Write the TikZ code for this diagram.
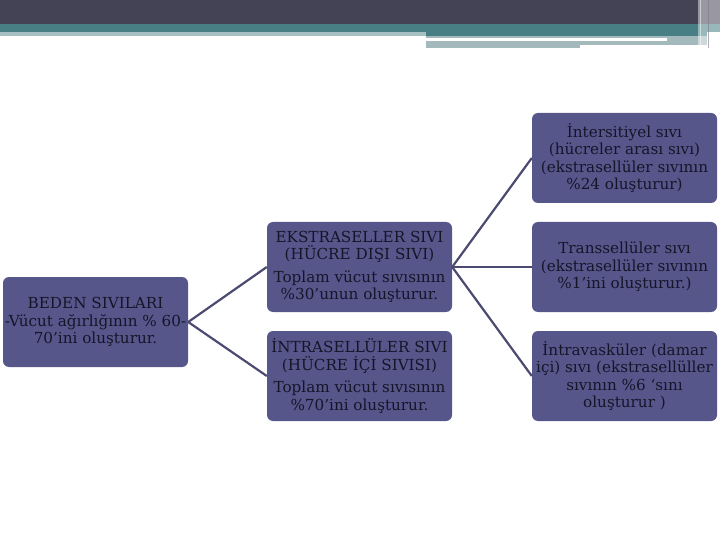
\documentclass[tikz,border=0pt]{standalone}
\usepackage{fontspec}
\setmainfont{DejaVu Serif}
\usepackage{tikz}
\usetikzlibrary{positioning}
\definecolor{koyu}{HTML}{444356}
\definecolor{camgobegi}{HTML}{477F84}
\definecolor{acik}{HTML}{A6C0C4}
\definecolor{gri}{HTML}{A3B9BC}
\definecolor{kutumor}{HTML}{57568A}
\definecolor{cizgi}{HTML}{4B4A70}
\definecolor{yazi}{HTML}{15152A}
\tikzset{
  kutu/.style={rectangle,rounded corners=6pt,fill=kutumor,draw=none,
    minimum width=185pt,minimum height=90pt,align=center,inner sep=1pt,
    text=yazi,font=\fontsize{15.2}{17.5}\selectfont},
  bag/.style={draw=cizgi,line width=2.2pt},
}

\begin{document}
\begin{tikzpicture}[x=1pt,y=-1pt]
      \useasboundingbox (0,0) rectangle (720,540);
      % ust bant
      \fill[koyu] (0,0) rectangle (720,24);
      \fill[camgobegi] (0,24) rectangle (720,32);
      \fill[acik] (0,32) rectangle (426,36);
      \fill[camgobegi] (426,32) rectangle (707,36);
      \fill[gri] (426,36) rectangle (707,45);
      \fill[gri] (426,45) rectangle (580,48);
      \fill[white] (426,38) rectangle (667,41);
      \fill[white,opacity=0.45] (698,0) rectangle (720,48);
      \draw[white,opacity=0.5,line width=1pt] (700,0) -- (700,46);
      \draw[koyu!70,opacity=0.6,line width=1pt] (708,0) -- (708,48);

      \node[kutu] (beden) at (95.5,322) {BEDEN SIVILARI\\-Vücut ağırlığının \% 60-\\70’ini oluşturur.};
      \node[kutu] (ekstra) at (359.5,267) {EKSTRASELLER SIVI\\(HÜCRE DIŞI SIVI)\\[5pt]Toplam vücut sıvısının\\\%30’unun oluşturur.};
      \node[kutu] (intra) at (359.5,376) {İNTRASELLÜLER SIVI\\(HÜCRE İÇİ SIVISI)\\[5pt]Toplam vücut sıvısının\\\%70’ini oluşturur.};
      \node[kutu] (inter) at (624.5,158) {İntersitiyel sıvı\\(hücreler arası sıvı)\\(ekstrasellüler sıvının\\\%24 oluşturur)};
      \node[kutu] (trans) at (624.5,267) {Transsellüler sıvı\\(ekstrasellüler sıvının\\\%1’ini oluşturur.)};
      \node[kutu] (vask) at (624.5,376) {İntravasküler (damar\\içi) sıvı (ekstrasellüller\\sıvının \%6 ‘sını\\oluşturur )};

      \draw[bag] (beden.east) -- (ekstra.west);
      \draw[bag] (beden.east) -- (intra.west);
      \draw[bag] (ekstra.east) -- (inter.west);
      \draw[bag] (ekstra.east) -- (trans.west);
      \draw[bag] (ekstra.east) -- (vask.west);
    \end{tikzpicture}
\end{document}
